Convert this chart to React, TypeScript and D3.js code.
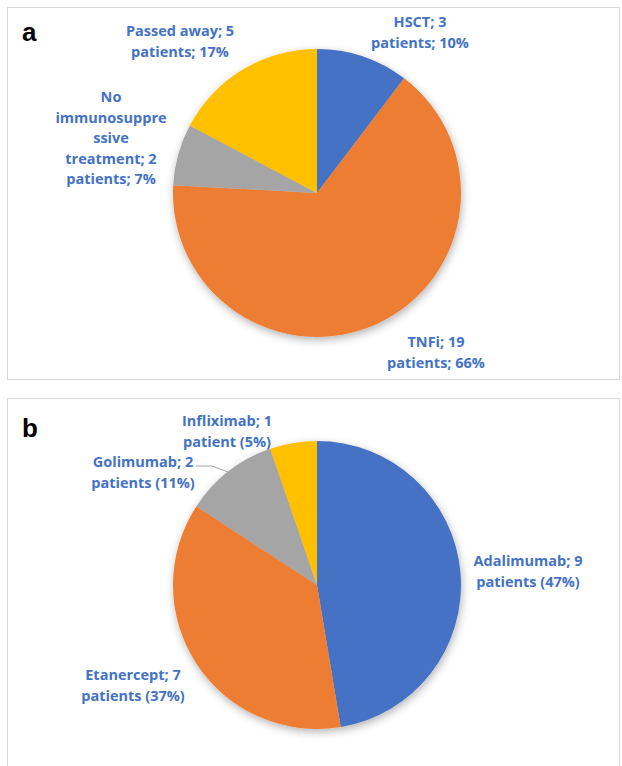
import React, { useEffect, useRef } from 'react';
import * as d3 from 'd3';

// Panel a: treatment outcome
const aNames = ['HSCT', 'TNFi', 'No immunosuppressive treatment', 'Passed away'];
const aValues = [3, 19, 2, 5];
// Panel b: TNF inhibitor used
const bNames = ['Adalimumab', 'Etanercept', 'Golimumab', 'Infliximab'];
const bValues = [9, 7, 2, 1];

const colors = ['#4472C4', '#ED7D31', '#A5A5A5', '#FFC000'];
const labelColor = '#4472C4';

// label anchor (centre x, first line y), per slice
const aLabelPos = [
  { x: 420, y: 22 },
  { x: 436, y: 342 },
  { x: 111, y: 97 },
  { x: 180, y: 31 },
];
const bLabelPos = [
  { x: 528, y: 561 },
  { x: 133, y: 675 },
  { x: 143, y: 462 },
  { x: 227, y: 421 },
];

const W = 622;
const H = 766;
const R = 144;
const lineH = 20.6;

const App: React.FC = () => {
  const svgRef = useRef<SVGSVGElement>(null);

  useEffect(() => {
    if (!svgRef.current) return;
    const svg = d3.select(svgRef.current);
    svg.selectAll('*').remove();

    const defs = svg.append('defs');
    const f = defs.append('filter').attr('id', 'pieShadow')
      .attr('x', '-20%').attr('y', '-20%').attr('width', '140%').attr('height', '140%');
    f.append('feDropShadow')
      .attr('dx', 1).attr('dy', 3).attr('stdDeviation', 4)
      .attr('flood-color', '#000').attr('flood-opacity', 0.3);

    // panel frames
    svg.append('rect').attr('x', 7.5).attr('y', 7.5).attr('width', 612).attr('height', 372)
      .attr('fill', '#fff').attr('stroke', '#d9d9d9');
    svg.append('rect').attr('x', 7.5).attr('y', 398.5).attr('width', 612).attr('height', 380)
      .attr('fill', '#fff').attr('stroke', '#d9d9d9');

    const pie = d3.pie<number>().sort(null).value(d => d);
    const arc = d3.arc<d3.PieArcDatum<number>>().innerRadius(0).outerRadius(R);

    const drawPie = (
      cx: number, cy: number, values: number[], pos: { x: number; y: number }[],
      lines: (i: number, pct: number) => string[]
    ) => {
      const total = d3.sum(values);
      const g = svg.append('g').attr('transform', `translate(${cx},${cy})`);
      g.append('g').attr('filter', 'url(#pieShadow)')
        .selectAll('path')
        .data(pie(values))
        .join('path')
        .attr('d', arc)
        .attr('fill', (_, i) => colors[i]);

      values.forEach((v, i) => {
        const pct = Math.round((v / total) * 100);
        const ls = lines(i, pct);
        const t = svg.append('text')
          .attr('text-anchor', 'middle')
          .attr('font-family', '"Open Sans", sans-serif')
          .attr('font-weight', 700)
          .attr('font-size', 14.5)
          .attr('fill', labelColor);
        ls.forEach((s, k) => {
          t.append('tspan').attr('x', pos[i].x).attr('y', pos[i].y + k * lineH).attr('dy', '0.35em').text(s);
        });
      });
    };

    drawPie(317, 193, aValues, aLabelPos, (i, pct) => {
      const head = `${aNames[i]}; ${aValues[i]}`;
      const tail = `patients; ${pct}%`;
      if (head.length > 20) {
        // Excel-style wrap of the long category name
        return ['No', 'immunosuppre', 'ssive', `treatment; ${aValues[i]}`, tail];
      }
      return [head, tail];
    });

    drawPie(317, 585, bValues, bLabelPos, (i, pct) => [
      `${bNames[i]}; ${bValues[i]}`,
      `${bValues[i] > 1 ? 'patients' : 'patient'} (${pct}%)`,
    ]);

    // leader line for Golimumab
    svg.append('path')
      .attr('d', 'M196,466 L212,466 L228,472')
      .attr('fill', 'none')
      .attr('stroke', '#a6a6a6')
      .attr('stroke-width', 1);

    // panel letters
    [['a', 32], ['b', 428]].forEach(([s, y]) => {
      svg.append('text')
        .attr('x', 22).attr('y', y as number).attr('dy', '0.35em')
        .attr('font-family', '"Liberation Sans", Arial, sans-serif')
        .attr('font-weight', 700).attr('font-size', 26)
        .attr('fill', '#000').text(s as string);
    });
  }, []);

  return (
    <svg ref={svgRef} width={W} height={H}
      style={{ position: 'absolute', left: 0, top: 0, background: '#fff' }} />
  );
};

export default App;
